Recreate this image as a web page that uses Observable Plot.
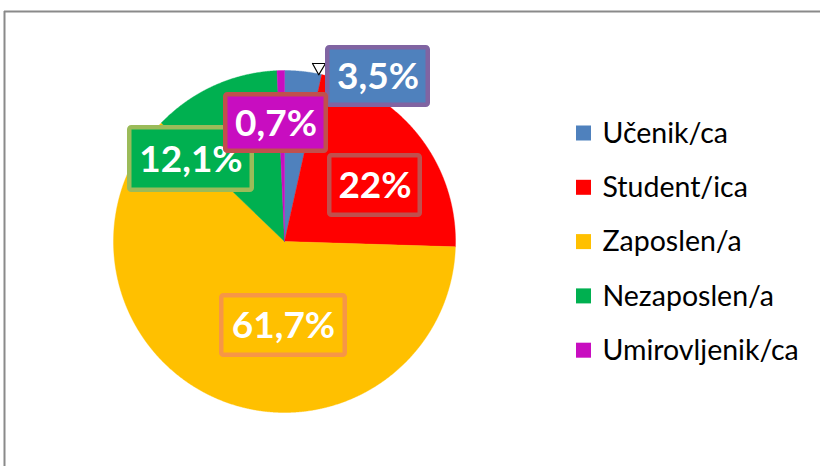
<!DOCTYPE html>
<html><head><meta charset="utf-8">
<script src="https://cdn.jsdelivr.net/npm/d3@7"></script>
<script src="https://cdn.jsdelivr.net/npm/@observablehq/plot@0.6"></script>
<style>
html,body{margin:0;padding:0;background:#fff;overflow:hidden;}
#wrap{width:820px;height:466px;overflow:hidden;}
#wrap svg{display:block;}
</style></head><body><div id="wrap"></div>
<script>
// ---- data ----
const categories = ["Učenik/ca", "Student/ica", "Zaposlen/a", "Nezaposlen/a", "Umirovljenik/ca"];
const values = [3.5, 22, 61.7, 12.1, 0.7];
const valueLabels = ["3,5%", "22%", "61,7%", "12,1%", "0,7%"];
const colors = ["#4F81BD", "#FF0000", "#FFC000", "#00B050", "#C80DC0"];
const borderColors = ["#8064A2", "#C0504D", "#F79646", "#9BBB59", "#C0504D"];

// ---- layout ----
const W = 820, H = 466;
const cx = 284, cy = 241, R = 171;
const frameLeft = 4, frameTop = 11;
// data-label boxes (outer edges) placed as in the reference
const labelBoxes = [
  {x1: 325, x2: 430, y1: 45, y2: 107},
  {x1: 327, x2: 422, y1: 153, y2: 217},
  {x1: 219, x2: 347, y1: 293, y2: 357},
  {x1: 127, x2: 254, y1: 125, y2: 192},
  {x1: 223, x2: 328, y1: 92, y2: 153}
];
const bw = 4.5; // box border width
const legendX = 576, legendTextX = 602, legendY0 = 133, legendStep = 54.3, sq = 15;

// ---- pie geometry from values ----
const arcs = d3.pie().sort(null).value(d => d)(values);
const pt = (a, r) => ({x: cx + r * Math.sin(a), y: cy - r * Math.cos(a)});
const pieData = [];
arcs.forEach((a, i) => {
  const cat = categories[i];
  pieData.push({cat, ...pt(0, 0)});
  const n = Math.max(2, Math.ceil((a.endAngle - a.startAngle) / (Math.PI / 720)));
  for (let k = 0; k <= n; k++) {
    const ang = a.startAngle + (a.endAngle - a.startAngle) * k / n;
    pieData.push({cat, ...pt(ang, R)});
  }
  pieData.push({cat, ...pt(0, 0)});
});

// callout pointer of the first label towards its slice edge
const tip = pt(arcs[0].endAngle * 0.92, R * 0.995);
const pointer = [
  {x: labelBoxes[0].x1 - 13, y: 63},
  {x: tip.x, y: tip.y},
  {x: labelBoxes[0].x1, y: 63},
  {x: labelBoxes[0].x1 - 13, y: 63}
];

const legendData = categories.map((cat, i) => ({cat, y: legendY0 + i * legendStep}));

const labelMarks = [];
labelBoxes.forEach((b, i) => {
  const d = [{...b, text: valueLabels[i]}];
  labelMarks.push(Plot.rect(d, {
    x1: d => d.x1 + bw / 2, x2: d => d.x2 - bw / 2,
    y1: d => d.y1 + bw / 2, y2: d => d.y2 - bw / 2,
    fill: colors[i], stroke: borderColors[i], strokeWidth: bw, rx: 2
  }));
  labelMarks.push(Plot.text(d, {
    x: d => (d.x1 + d.x2) / 2, y: d => (d.y1 + d.y2) / 2 + 1,
    text: "text", fill: "white", fontSize: 37, fontWeight: "bold"
  }));
});

const chart = Plot.plot({
  width: W, height: H,
  marginTop: 0, marginRight: 0, marginBottom: 0, marginLeft: 0,
  x: {domain: [0, W], range: [0, W], axis: null},
  y: {domain: [0, H], range: [0, H], axis: null},
  color: {domain: categories, range: colors},
  style: {fontFamily: "Lato, 'Open Sans', sans-serif", background: "white"},
  marks: [
    Plot.ruleY([frameTop], {x1: frameLeft, x2: W, stroke: "#8a8a8a", strokeWidth: 2}),
    Plot.ruleX([frameLeft], {y1: frameTop, y2: H, stroke: "#8a8a8a", strokeWidth: 2}),
    Plot.line(pieData, {x: "x", y: "y", z: "cat", fill: "cat", stroke: "cat", strokeWidth: 0.4, curve: "linear"}),
    Plot.line(pointer, {x: "x", y: "y", fill: "white", stroke: "black", strokeWidth: 1.2, curve: "linear"}),
    ...labelMarks,
    Plot.rect(legendData, {x1: legendX, x2: legendX + sq, y1: d => d.y - sq / 2, y2: d => d.y + sq / 2, fill: "cat"}),
    Plot.text(legendData, {x: legendTextX, y: "y", text: "cat", textAnchor: "start", fontSize: 28.5, fill: "black"})
  ]
});
document.getElementById("wrap").appendChild(chart);
</script>
</body></html>
